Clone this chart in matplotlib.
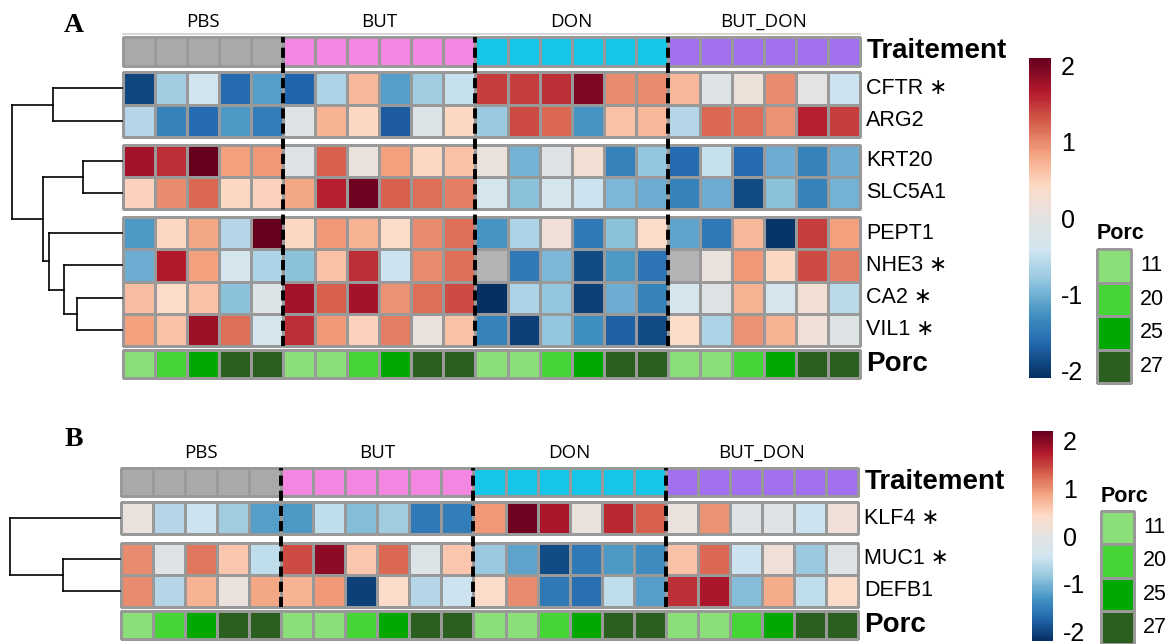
import numpy as np
import matplotlib as mpl
import matplotlib.pyplot as plt
from matplotlib.colors import ListedColormap, LinearSegmentedColormap, Normalize

W, H = 1169, 644

# --- data ---
groups = ["PBS", "BUT", "DON", "BUT_DON"]
group_sizes = [5, 6, 6, 6]
porc = [11, 20, 25, 27, 27,
        11, 11, 20, 25, 27, 27,
        11, 11, 20, 25, 27, 27,
        11, 11, 20, 25, 27, 27]
porc_levels = [11, 20, 25, 27]

trait_colors = ["#a9a9a9", "#f386e0", "#16c6e6", "#a070ee"]
porc_colors = ["#8cdf78", "#45d635", "#00a800", "#2b5f1f"]

nan = np.nan
genes_a = ["CFTR", "ARG2", "KRT20", "SLC5A1", "PEPT1", "NHE3", "CA2", "VIL1"]
stars_a = [True, False, False, False, False, True, True, True]
blocks_a = [2, 2, 4]
cftr = [-1.9, -0.75, -0.4, -1.6, -1.15, -1.65, -0.65, 0.7, -1.15, -0.75, -0.5,
        1.45, 1.45, 1.55, 1.95, 1.0, 1.0, 0.7, -0.1, 0.15, 1.0, 0.0, -0.45]
arg2 = [-0.6, -1.4, -1.6, -1.2, -1.45, -0.05, 0.75, 0.45, -1.75, -0.15, 0.45,
        -0.78, 1.35, 1.2, -1.25, 0.6, 0.7, -0.6, 1.2, 1.15, 0.95, 1.6, 1.45]
krt20 = [1.75, 1.55, 2.1, 0.85, 0.9, -0.05, 1.25, 0.1, 0.85, 0.45, 0.6,
         0.1, -1.0, -0.05, 0.25, -1.4, -0.8, -1.6, -0.5, -1.6, -1.05, -1.4, -1.05]
slc5a1 = [0.5, 1.0, 1.2, 0.45, 0.5, 0.8, 1.6, 2.05, 1.25, 1.15, 1.05,
          -0.35, -0.85, -0.35, -0.45, -0.95, -1.05, -1.4, -1.05, -1.85, -0.85, -1.4, -0.97]
pept1 = [-1.2, 0.45, 0.8, -0.6, 2.1, 0.45, 0.9, 0.75, 0.4, 1.0, 1.15,
         -1.25, -0.65, 0.2, -1.5, -0.85, 0.4, -1.1, -1.5, 0.7, -2.05, 1.45, 0.85]
nhe3 = [-1.05, 1.65, 0.85, -0.35, -0.65, -0.85, 0.6, 1.55, -0.45, 1.0, 1.15,
        nan, -1.5, -0.95, -1.85, -1.2, -1.55, nan, 0.1, 0.9, 0.45, 1.35, 1.05]
ca2 = [0.65, 0.4, 0.6, -0.85, -0.15, 1.75, 1.25, 1.75, 0.95, 1.15, 1.35,
       -2.1, -0.65, -0.8, -1.95, -1.05, -1.4, -0.35, -0.1, 0.75, -0.35, 0.25, -0.55]
vil1 = [0.85, 0.6, 1.8, 1.15, -0.35, 1.55, 0.9, 0.5, 1.05, 0.1, 0.6,
        -1.4, -1.95, -0.8, -1.3, -1.7, -1.85, 0.4, -0.65, 0.95, 0.75, 0.2, -0.1]
expr_a = [cftr, arg2, krt20, slc5a1, pept1, nhe3, ca2, vil1]
# merges (child, child, height) -- leaves 0..7, new nodes from 8
links_a = [(0, 1, 69), (2, 3, 39), (6, 7, 45), (5, 10, 58),
           (4, 11, 73), (9, 12, 79), (8, 13, 110)]

genes_b = ["KLF4", "MUC1", "DEFB1"]
stars_b = [True, True, False]
blocks_b = [1, 2]
klf4 = [0.1, -0.65, -0.45, -0.75, -1.2, -1.25, -0.55, -0.95, -0.75, -1.55, -1.5,
        0.95, 2.15, 1.8, 0.1, 1.65, 1.3, 0.1, 1.0, -0.05, -0.05, -0.45, 0.2]
muc1 = [1.05, -0.05, 1.15, 0.6, -0.55, 1.45, 1.95, 0.6, 1.25, -0.15, 0.6,
        -0.8, -1.15, -1.95, -1.55, -1.25, -1.4, 0.65, 1.25, -0.45, 0.2, -0.8, -0.1]
defb1 = [1.05, -0.65, 0.75, 0.1, 0.85, 0.75, 0.95, -2.05, 0.4, -0.65, -0.45,
         0.4, 1.05, -1.55, -1.65, -0.55, -1.2, 1.6, 1.8, -0.95, 0.8, -0.55, 0.4]
expr_b = [klf4, muc1, defb1]
links_b = [(1, 2, 57), (0, 3, 110)]

EDGE = "#999999"
SANS = ["Liberation Sans", "DejaVu Sans"]
plt.rcParams["font.family"] = SANS
plt.rcParams["axes.unicode_minus"] = False

cmap = LinearSegmentedColormap.from_list("rdbu", [
    "#053061", "#2166ac", "#4393c3", "#92c5de", "#d1e5f0", "#e3e3e3",
    "#fddbc7", "#f4a582", "#d6604d", "#b2182b", "#67001f"], N=100)
cmap.set_bad("#b3b3b3")


def px(x0, y0, x1, y1):
    return [x0 / W, 1 - y1 / H, (x1 - x0) / W, (y1 - y0) / H]


def cells(ax, data, cm, norm):
    m = ax.pcolormesh(np.ma.masked_invalid(data), cmap=cm, norm=norm,
                      edgecolors=EDGE, linewidth=0.9)
    m.set_clip_on(False)
    ax.set_xlim(0, data.shape[1])
    ax.set_ylim(data.shape[0], 0)
    ax.axis("off")


def dendro(ax, leaf_y, links, hmax):
    ys = list(leaf_y)
    hs = [0] * len(leaf_y)
    for a, b, h in links:
        for c in (a, b):
            ax.plot([hs[c], h], [ys[c], ys[c]], color="black", lw=1.2, clip_on=False)
        ax.plot([h, h], [ys[a], ys[b]], color="black", lw=1.2, clip_on=False,
                solid_capstyle="projecting")
        ys.append((ys[a] + ys[b]) / 2)
        hs.append(h)
    ax.set_xlim(hmax, 0)
    ax.axis("off")


def panel(fig, letter, genes, stars, blocks, expr, links, vmax, lay):
    x0, x1 = lay["x"]
    ncol = sum(group_sizes)
    norm = Normalize(-vmax, vmax)
    trait = np.repeat(np.arange(len(groups)), group_sizes)[None, :]
    bounds = np.cumsum(group_sizes)

    # traitement annotation
    ax = fig.add_axes(px(x0, lay["annot"][0], x1, lay["annot"][1]))
    cells(ax, trait, ListedColormap(trait_colors), Normalize(-0.5, 3.5))
    starts = bounds - np.array(group_sizes)
    for g, s, n in zip(groups, starts, group_sizes):
        ax.text(s + n / 2, -0.53, g, ha="center", va="center", fontsize=13.5,
                family=["Open Sans", "DejaVu Sans"])
    if lay.get("header"):
        ax.plot([0, ncol], [-0.12, -0.12], color="#d0d0d0", lw=1.2, clip_on=False)
    ax.text(ncol + 0.2, 0.5, "Traitement", ha="left", va="center",
            fontsize=20, fontweight="bold")

    # heatmap blocks
    data = np.array(expr, dtype=float)
    leaf_y = []
    r = 0
    for (yt, yb), n in zip(lay["blocks"], blocks):
        ax = fig.add_axes(px(x0, yt, x1, yb))
        cells(ax, data[r:r + n], cmap, norm)
        for i in range(n):
            name = genes[r + i] + (" \u2217" if stars[r + i] else "")
            ax.text(ncol + 0.2, i + 0.5, name, ha="left", va="center", fontsize=15.5)
            leaf_y.append(yt + (i + 0.5) * (yb - yt) / n)
        r += n

    # porc annotation
    ax = fig.add_axes(px(x0, lay["porc"][0], x1, lay["porc"][1]))
    pidx = np.array([porc_levels.index(p) for p in porc])[None, :]
    cells(ax, pidx, ListedColormap(porc_colors), Normalize(-0.5, 3.5))
    ax.text(ncol + 0.2, 0.5, "Porc", ha="left", va="center",
            fontsize=20, fontweight="bold")

    # dashed group separators
    ytop = lay["annot"][0]
    ybot = lay["blocks"][-1][1]
    ax = fig.add_axes(px(x0, ytop, x1, ybot))
    ax.set_xlim(0, ncol)
    ax.set_ylim(0, 1)
    for b in bounds[:-1]:
        ax.plot([b, b], [0, 1], color="black", lw=2.8, linestyle=(0, (2.6, 1.3)))
    ax.axis("off")
    ax.patch.set_alpha(0)

    # dendrogram
    d0 = lay["dendro"]
    ax = fig.add_axes(px(d0, lay["blocks"][0][0], x0 - 1, ybot))
    ax.set_ylim(ybot, lay["blocks"][0][0])
    dendro(ax, leaf_y, links, x0 - 1 - d0)

    # colorbar
    cax = fig.add_axes(px(*lay["cbar"]))
    sm = mpl.cm.ScalarMappable(norm=norm, cmap=cmap)
    cb = fig.colorbar(sm, cax=cax, ticks=[-2, -1, 0, 1, 2])
    cb.outline.set_visible(False)
    cax.tick_params(length=0, pad=7, labelsize=18)

    # porc legend
    lx0, ly0, lx1, ly1 = lay["legend"]
    lax = fig.add_axes(px(lx0, ly0, lx1, ly1))
    cells(lax, np.arange(len(porc_levels))[:, None],
          ListedColormap(porc_colors), Normalize(-0.5, 3.5))
    for i, p in enumerate(porc_levels):
        lax.text(1.27, i + 0.5, str(p), ha="left", va="center", fontsize=15.5)
    lax.text(0.0, -0.45, "Porc", ha="left", va="center", fontsize=15.5,
             fontweight="bold")

    # panel letter
    lx, ly = lay["letter"]
    fig.text(lx / W, 1 - ly / H, letter, ha="center", va="center", fontsize=20,
             fontweight="bold", family=["Liberation Serif", "DejaVu Serif"])


fig = plt.figure(figsize=(W / 100, H / 100), dpi=100)

lay_a = {"x": (123, 860), "annot": (37, 66),
         "blocks": [(72, 137), (145, 209), (217, 346)], "porc": (350, 378),
         "dendro": 12, "cbar": (1029, 58, 1051, 378),
         "legend": (1097, 249, 1131, 383), "letter": (74, 25), "header": True}
lay_b = {"x": (121, 858), "annot": (468, 496),
         "blocks": [(502, 534), (543, 607)], "porc": (611, 639),
         "dendro": 10, "cbar": (1032, 431, 1053, 641),
         "legend": (1101, 511, 1134, 644), "letter": (74, 439)}

panel(fig, "A", genes_a, stars_a, blocks_a, expr_a, links_a, 2.1, lay_a)
panel(fig, "B", genes_b, stars_b, blocks_b, expr_b, links_b, 2.2, lay_b)

fig.savefig("out.png", dpi=100)
plt.close(fig)
